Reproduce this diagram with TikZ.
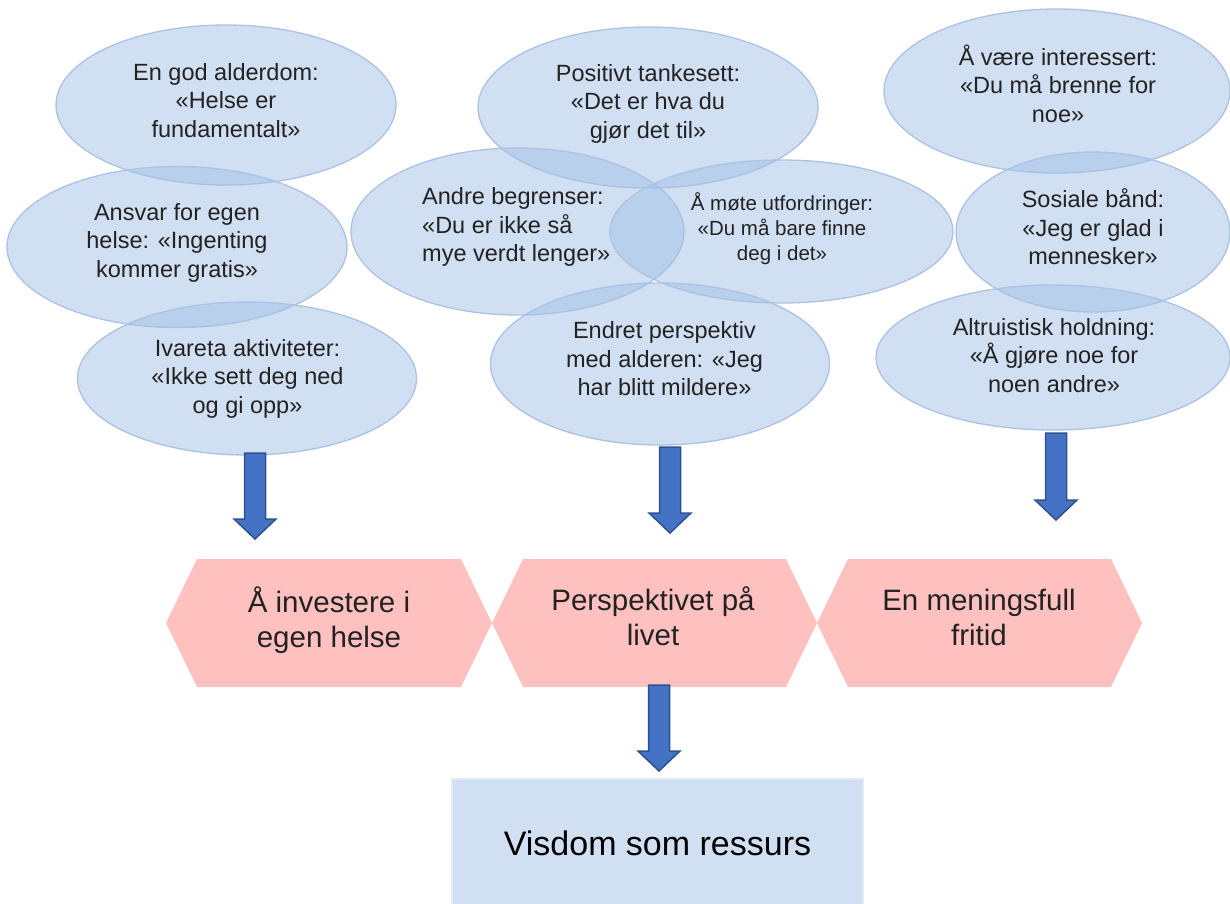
\documentclass[tikz,border=0pt]{standalone}
\usepackage{fontspec}
\setmainfont{Liberation Sans}
\usetikzlibrary{calc,shapes.geometric}
\definecolor{ellfill}{RGB}{161,193,229}
\definecolor{elldraw}{RGB}{172,194,228}
\definecolor{hexfill}{RGB}{255,192,192}
\definecolor{arrfill}{RGB}{68,114,196}
\definecolor{arredge}{RGB}{47,82,143}
\definecolor{boxfill}{RGB}{208,224,242}
\definecolor{boxedge}{RGB}{226,234,246}
\definecolor{txt}{RGB}{34,34,34}
\newcommand\sTop{\rule{0pt}{22pt}}
\newcommand\sBot{\rule[-6pt]{0pt}{6pt}}
\newcommand\hTop{\rule{0pt}{28pt}}
\newcommand\hBot{\rule[-8pt]{0pt}{8pt}}
\newcommand\blockarrow[2]{%
  \draw[barrow] ($(#1)+(-10.5,0)$) -- ($(#1)+(10.5,0)$) -- ($(#2)+(10.5,-20)$)
    -- ($(#2)+(21,-20)$) -- (#2) -- ($(#2)+(-21,-20)$) -- ($(#2)+(-10.5,-20)$) -- cycle;}
\begin{document}
\begin{tikzpicture}[x=1pt,y=-1pt,
  ell/.style={ellipse, fill=ellfill, fill opacity=0.5, draw=elldraw, line width=1.3pt, inner sep=0pt, outer sep=0pt},
  etext/.style={text=txt, align=center, inner sep=0pt, font=\fontsize{23.5}{28.5}\selectfont},
  esmall/.style={text=txt, align=center, inner sep=0pt, font=\fontsize{20.5}{25}\selectfont},
  hexnode/.style={rectangle, inner sep=0pt, outer sep=0pt, minimum height=128pt},
  htext/.style={text=txt, align=center, inner sep=0pt, font=\fontsize{29.5}{35}\selectfont},
  barrow/.style={fill=arrfill, draw=arredge, line width=1.5pt, line join=miter},
  boxnode/.style={rectangle, fill=boxfill, draw=boxedge, line width=1.2pt, inner sep=0pt, minimum width=411pt, minimum height=132pt, font=\fontsize{34}{40}\selectfont, text=black}
]
\useasboundingbox (0,0) rectangle (1230,903);
\clip (0,0) rectangle (1230,903);

% ellipses
\node[ell, minimum width=340pt, minimum height=160pt] (e1) at (226,105) {};
\node[ell, minimum width=340pt, minimum height=161pt] (e2) at (177,247) {};
\node[ell, minimum width=339pt, minimum height=153pt] (e3) at (247,378.5) {};
\node[ell, minimum width=340pt, minimum height=161pt] (e4) at (648,107.5) {};
\node[ell, minimum width=333pt, minimum height=167pt] (e5) at (517.5,231.5) {};
\node[ell, minimum width=343pt, minimum height=143pt] (e6) at (781.5,231.5) {};
\node[ell, minimum width=339pt, minimum height=162pt] (e7) at (660,364) {};
\node[ell, minimum width=346pt, minimum height=164pt] (e8) at (1057,91) {};
\node[ell, minimum width=274pt, minimum height=160pt] (e9) at (1093,232) {};
\node[ell, minimum width=354pt, minimum height=145pt] (e10) at (1053,357.5) {};

% ellipse texts
\node[etext] (t1) at (226,100.5) {\sTop En god alderdom:\\«Helse er\\fundamentalt»\sBot};
\node[etext] (t2) at (177,240.5) {\sTop Ansvar for egen\\helse: «Ingenting\\kommer gratis»\sBot};
\node[etext] (t3) at (247.5,376.5) {\sTop Ivareta aktiviteter:\\«Ikke sett deg ned\\og gi opp»\sBot};
\node[etext] (t4) at (648,101.5) {\sTop Positivt tankesett:\\«Det er hva du\\gjør det til»\sBot};
\node[etext, align=left, anchor=west] (t5) at (422,225) {\sTop Andre begrenser:\\«Du er ikke så\\mye verdt lenger»\sBot};
\node[esmall] (t6) at (782,227) {\sTop Å møte utfordringer:\\«Du må bare finne\\deg i det»\sBot};
\node[etext] (t7) at (664.5,359) {\sTop Endret perspektiv\\med alderen: «Jeg\\har blitt mildere»\sBot};
\node[etext] (t8) at (1058,85.5) {\sTop Å være interessert:\\«Du må brenne for\\noe»\sBot};
\node[etext] (t9) at (1093,228) {\sTop Sosiale bånd:\\«Jeg er glad i\\mennesker»\sBot};
\node[etext] (t10) at (1054,355.5) {\sTop Altruistisk holdning:\\«Å gjøre noe for\\noen andre»\sBot};

% hexagons
\node[hexnode, minimum width=326pt] (h1) at (329,623) {};
\node[hexnode, minimum width=325pt] (h2) at (654.5,623) {};
\node[hexnode, minimum width=325pt] (h3) at (979.5,623) {};
\foreach \h in {h1,h2,h3}{
  \fill[hexfill] (\h.west) -- ($(\h.north west)+(31,0)$) -- ($(\h.north east)+(-31,0)$) -- (\h.east)
    -- ($(\h.south east)+(-31,0)$) -- ($(\h.south west)+(31,0)$) -- cycle;
}
\node[htext] (ht1) at (329,620) {\hTop Å investere i\\egen helse\hBot};
\node[htext] (ht2) at (653,617.5) {\hTop Perspektivet på\\livet\hBot};
\node[htext] (ht3) at (979,617.5) {\hTop En meningsfull\\fritid\hBot};

% result box
\node[boxnode] (box) at (657.5,845) {\hTop Visdom som ressurs\hBot};

% block arrows
\coordinate (a1s) at ($(e3.south)+(8,-2)$);
\coordinate (a1t) at (255,539);
\coordinate (a2s) at ($(e7.south)+(10,2)$);
\coordinate (a2t) at (670,533);
\coordinate (a3s) at ($(e10.south)+(3,3)$);
\coordinate (a3t) at (1056,520);
\coordinate (a4s) at ($(h2.south)+(4.5,-2)$);
\coordinate (a4t) at (659,771);
\blockarrow{a1s}{a1t}
\blockarrow{a2s}{a2t}
\blockarrow{a3s}{a3t}
\blockarrow{a4s}{a4t}
\end{tikzpicture}
\end{document}
